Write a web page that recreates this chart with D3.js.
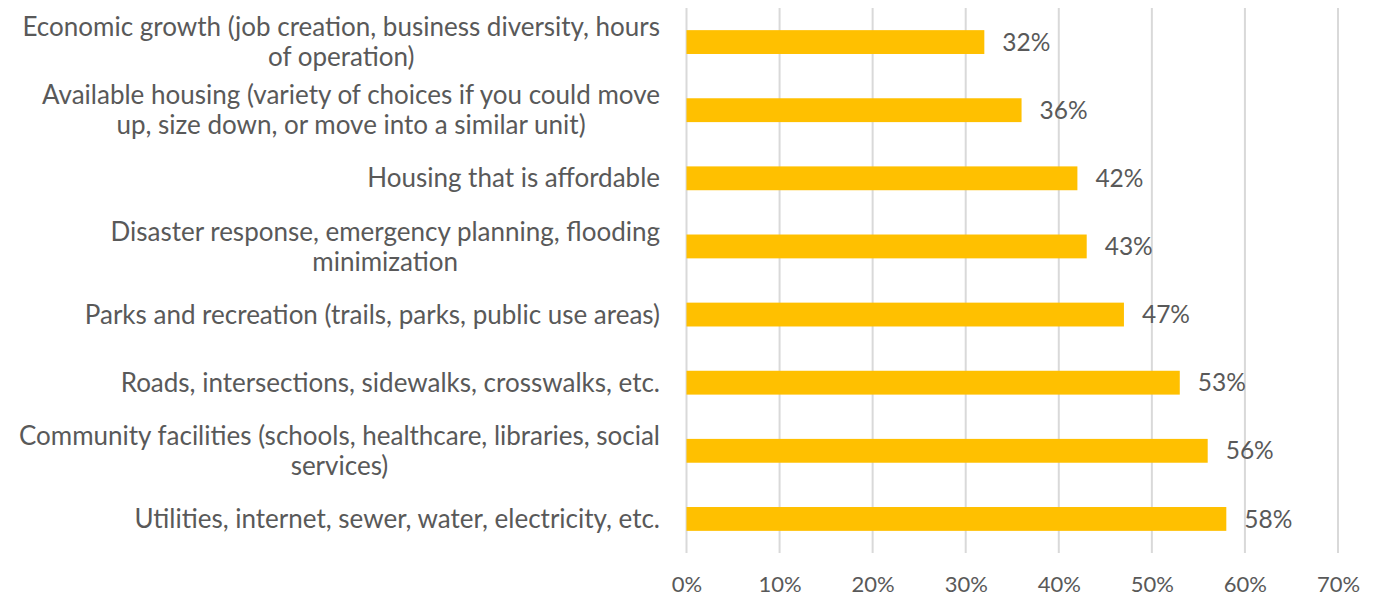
<!DOCTYPE html>
<html>
<head>
<meta charset="utf-8">
<script src="https://cdn.jsdelivr.net/npm/d3@7"></script>
<style>
  html, body { margin: 0; padding: 0; background: #fff; }
  svg { display: block; }
  text { font-family: Lato, "Open Sans", sans-serif; fill: #595959; }
</style>
</head>
<body>
<svg id="chart" width="1383" height="600"></svg>
<script>
// Survey priorities, top to bottom; "\n" marks where a label wraps
const categories = [
  "Economic growth (job creation, business diversity, hours\nof operation)",
  "Available housing (variety of choices if you could move\nup, size down, or move into a similar unit)",
  "Housing that is affordable",
  "Disaster response, emergency planning, flooding\nminimization",
  "Parks and recreation (trails, parks, public use areas)",
  "Roads, intersections, sidewalks, crosswalks, etc.",
  "Community facilities (schools, healthcare, libraries, social\nservices)",
  "Utilities, internet, sewer, water, electricity, etc."
];
const values = [32, 36, 42, 43, 47, 53, 56, 58];
const xTicks = [0, 10, 20, 30, 40, 50, 60, 70];

const svg = d3.select("#chart");
const margin = { top: 8, right: 45, bottom: 47, left: 686.5 };
const width = 1383 - margin.left - margin.right;
const height = 600 - margin.top - margin.bottom;

const x = d3.scaleLinear().domain([0, 70]).range([0, width]);
const y = d3.scaleBand().domain(categories).range([0, height]).paddingInner(0.65).paddingOuter(0.325);

const g = svg.append("g").attr("transform", `translate(${margin.left},${margin.top})`);

// vertical gridlines
g.append("g").selectAll("line").data(xTicks).join("line")
  .attr("x1", d => x(d)).attr("x2", d => x(d))
  .attr("y1", 0).attr("y2", height)
  .attr("stroke", "#d9d9d9").attr("stroke-width", 2);

// x axis labels
const xAxis = d3.axisBottom(x).tickValues(xTicks).tickFormat(d => d + "%").tickSize(0).tickPadding(23);
const ax = g.append("g").attr("transform", `translate(0,${height})`).call(xAxis);
ax.select(".domain").remove();
ax.selectAll("text").attr("font-size", 22).style("font-family", "Lato, 'Open Sans', sans-serif").attr("fill", "#595959");

// bars
g.append("g").selectAll("rect").data(values).join("rect")
  .attr("x", 0)
  .attr("y", (d, i) => y(categories[i]))
  .attr("width", d => x(d))
  .attr("height", y.bandwidth())
  .attr("fill", "#ffc000");

// value labels
g.append("g").selectAll("text").data(values).join("text")
  .attr("x", d => x(d) + 18)
  .attr("y", (d, i) => y(categories[i]) + y.bandwidth() / 2)
  .attr("dy", "0.35em")
  .attr("font-size", 24.5)
  .text(d => d + "%");

// category labels: each block is right-aligned to the plot, its lines centred within it
const labelRight = 660;
const lineH = 30;
const cat = svg.append("g").selectAll("text").data(categories).join("text")
  .attr("text-anchor", "middle")
  .attr("font-size", 26);
cat.each(function(d, i) {
  const lines = d.split("\n");
  const t = d3.select(this);
  lines.forEach((ln, k) => {
    t.append("tspan")
      .attr("x", 0)
      .attr("y", (k - (lines.length - 1) / 2) * lineH)
      .attr("dy", "0.35em")
      .text(ln);
  });
  const maxW = d3.max(t.selectAll("tspan").nodes(), n => n.getComputedTextLength());
  t.attr("transform", `translate(${labelRight - maxW / 2},${margin.top + y(d) + y.bandwidth() / 2})`);
});
</script>
</body>
</html>
